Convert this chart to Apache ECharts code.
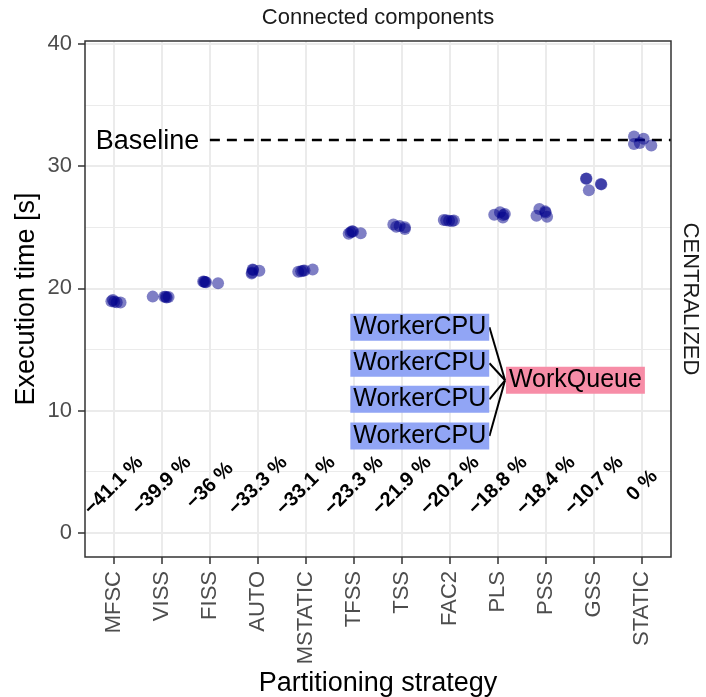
<!DOCTYPE html>
<html>
<head>
<meta charset="utf-8">
<script src="https://cdn.jsdelivr.net/npm/echarts@6/dist/echarts.min.js"></script>
<style>
  html, body { margin: 0; padding: 0; background: #fff; }
  #myChart { width: 706px; height: 697px; }
</style>
</head>
<body>
<div id="myChart"></div>
<script>
// Partitioning strategies, ordered as on the x axis
var strategies = ['MFSC', 'VISS', 'FISS', 'AUTO', 'MSTATIC', 'TFSS', 'TSS', 'FAC2', 'PLS', 'PSS', 'GSS', 'STATIC'];

// Execution time [s] of each repetition, one row per strategy
var times = [
  [19.05, 18.90, 18.86, 18.83, 18.95],
  [19.32, 19.30, 19.28, 19.24, 19.30],
  [20.56, 20.52, 20.50, 20.41, 20.54],
  [21.22, 21.54, 21.43, 21.50, 21.30],
  [21.35, 21.43, 21.54, 21.40, 21.45],
  [24.46, 24.68, 24.51, 24.60, 24.65],
  [25.22, 25.05, 25.00, 24.85, 25.10],
  [25.60, 25.54, 25.55, 25.58, 25.52],
  [26.03, 26.22, 25.80, 26.08, 26.00],
  [26.49, 25.95, 26.30, 25.86, 26.20],
  [28.97, 28.03, 28.51, 29.00, 28.55],
  [32.43, 31.81, 32.24, 31.89, 31.70]
];

// horizontal jitter of each point (in category units)
var jitter = [
  [-0.02, 0.01, 0.06, 0.14, -0.05],
  [-0.19, 0.05, 0.14, 0.10, 0.08],
  [-0.14, -0.10, -0.08, 0.17, -0.12],
  [-0.13, -0.11, 0.03, -0.10, -0.12],
  [-0.16, -0.06, 0.14, -0.10, -0.03],
  [-0.11, -0.04, 0.14, -0.07, -0.02],
  [-0.18, -0.12, 0.06, 0.06, -0.05],
  [-0.13, -0.02, 0.08, -0.08, 0.04],
  [-0.08, 0.04, 0.10, 0.14, 0.11],
  [-0.14, -0.20, -0.02, 0.02, -0.01],
  [-0.17, -0.11, 0.15, -0.16, 0.14],
  [-0.17, -0.17, 0.03, -0.05, 0.19]
];

// relative change vs. STATIC, printed under each strategy
var changeLabels = ['\u221241.1 %', '\u221239.9 %', '\u221236 %', '\u221233.3 %', '\u221233.1 %', '\u221223.3 %',
  '\u221221.9 %', '\u221220.2 %', '\u221218.8 %', '\u221218.4 %', '\u221210.7 %', '0 %'];
var changeLabelY = 3.84;

// baseline (dashed line) and its label
var baselineTime = 32.14;
var baselineStart = 2;
var baselineLabel = { x: 0.70, y: 31.98 };

// the WorkerCPU -> WorkQueue sketch
var workerLabelX = 6.37;
var workerRows = [16.81, 13.86, 10.91, 7.91];
var workerEdgeX = 7.82;
var queueLabel = { x: 9.61, y: 12.47 };
var queueEdgeX = 8.145;

var yTicks = { min: 0, max: 40, interval: 10 };

var FONT = 'Liberation Sans';

// build the point list
var points = [];
times.forEach(function (row, i) {
  row.forEach(function (t, k) {
    points.push([i + jitter[i][k], t]);
  });
});

var changeData = changeLabels.map(function (label, i) {
  return { value: [i, changeLabelY], name: label };
});

var workerData = workerRows.map(function (y) {
  return { value: [workerLabelX, y], name: 'WorkerCPU' };
});

var connectorData = workerRows.map(function (y) {
  return { coords: [[workerEdgeX, y], [queueEdgeX, queueLabel.y]] };
});

var myChart = echarts.init(document.getElementById('myChart'));

var option = {
  animation: false,
  textStyle: { fontFamily: FONT },
  grid: [
    // 0: data panel (with border)
    { left: 85, top: 41, width: 586, height: 516, show: true, borderColor: '#333333', borderWidth: 1.5,
      backgroundColor: 'transparent', z: 5, containLabel: false, outerBoundsMode: 'none' },
    // 1: category ticks / vertical grid lines
    { left: 113.8, top: 41, width: 528.3, height: 516, containLabel: false, outerBoundsMode: 'none' },
    // 2: y ticks / horizontal grid lines
    { left: 85, top: 44.05, width: 586, height: 488.55, containLabel: false, outerBoundsMode: 'none' }
  ],
  xAxis: [
    {
      gridIndex: 0, type: 'value', min: -0.6, max: 11.6,
      axisLine: { show: false }, axisTick: { show: false }, axisLabel: { show: false }, splitLine: { show: false },
      name: 'Partitioning strategy', nameLocation: 'middle', nameGap: 113, nameMoveOverlap: false,
      nameTextStyle: { fontSize: 27, color: '#000000', fontFamily: FONT }
    },
    {
      gridIndex: 1, type: 'category', data: strategies, boundaryGap: false,
      axisLine: { show: false },
      axisTick: { show: true, length: 7, lineStyle: { color: '#333333', width: 1.5 } },
      axisLabel: { interval: 0, rotate: 90, fontSize: 22, color: '#4D4D4D', margin: 14, fontFamily: FONT },
      splitLine: { show: true, lineStyle: { color: '#EBEBEB', width: 2 } }
    },
    { gridIndex: 2, type: 'value', show: false }
  ],
  yAxis: [
    {
      gridIndex: 0, type: 'value', min: -2, max: 40.25,
      axisLine: { show: false }, axisTick: { show: false }, axisLabel: { show: false }, splitLine: { show: false },
      name: 'Execution time [s]', nameLocation: 'middle', nameGap: 45, nameMoveOverlap: false,
      nameTextStyle: { fontSize: 27, color: '#000000', fontFamily: FONT }
    },
    { gridIndex: 1, type: 'value', show: false },
    {
      gridIndex: 2, type: 'value', min: yTicks.min, max: yTicks.max, interval: yTicks.interval,
      axisLine: { show: false },
      axisTick: { show: true, length: 7, lineStyle: { color: '#333333', width: 1.5 } },
      axisLabel: { fontSize: 22, color: '#4D4D4D', margin: 13, fontFamily: FONT },
      splitLine: { show: true, lineStyle: { color: '#EBEBEB', width: 2 } },
      minorTick: { show: false, splitNumber: 2 },
      minorSplitLine: { show: true, lineStyle: { color: '#EBEBEB', width: 1 } }
    }
  ],
  graphic: [
    {
      type: 'text', x: 378, y: 18, z: 10,
      style: { text: 'Connected components', fontSize: 22, fontFamily: FONT, fill: '#1A1A1A',
        textAlign: 'center', textVerticalAlign: 'middle' }
    },
    {
      type: 'text', x: 690, y: 299, rotation: -Math.PI / 2, z: 10,
      style: { text: 'CENTRALIZED', fontSize: 22, fontFamily: FONT, fill: '#1A1A1A',
        textAlign: 'center', textVerticalAlign: 'middle' }
    }
  ],
  series: [
    {
      // measured execution times
      type: 'scatter', xAxisIndex: 0, yAxisIndex: 0, z: 3,
      symbolSize: 12,
      itemStyle: { color: '#00008B', opacity: 0.5 },
      data: points
    },
    {
      // baseline
      type: 'line', xAxisIndex: 0, yAxisIndex: 0, z: 2,
      symbol: 'none', silent: true,
      lineStyle: { color: '#000000', width: 2.5, type: [10, 7] },
      data: [[baselineStart, baselineTime], [11.6, baselineTime]]
    },
    {
      // baseline label
      type: 'scatter', xAxisIndex: 0, yAxisIndex: 0, z: 4,
      symbolSize: 0, itemStyle: { color: 'transparent' },
      label: { show: true, position: 'inside', formatter: '{b}', fontSize: 27, color: '#000000', opacity: 1, fontFamily: FONT },
      data: [{ value: [baselineLabel.x, baselineLabel.y], name: 'Baseline' }]
    },
    {
      // change vs STATIC labels
      type: 'scatter', xAxisIndex: 0, yAxisIndex: 0, z: 4,
      symbolSize: 0, itemStyle: { color: 'transparent' },
      label: { show: true, position: 'inside', formatter: '{b}', rotate: 45, fontSize: 20, fontWeight: 'bold',
        color: '#000000', opacity: 1, fontFamily: FONT },
      data: changeData
    },
    {
      // connectors WorkerCPU -> WorkQueue
      type: 'lines', coordinateSystem: 'cartesian2d', xAxisIndex: 0, yAxisIndex: 0, z: 4,
      lineStyle: { color: '#000000', width: 2, opacity: 1, curveness: 0 },
      data: connectorData
    },
    {
      // WorkerCPU boxes
      type: 'scatter', xAxisIndex: 0, yAxisIndex: 0, z: 5,
      symbolSize: 0, itemStyle: { color: 'transparent' },
      label: { show: true, position: 'inside', formatter: '{b}', fontSize: 25, lineHeight: 25, color: '#000000', opacity: 1,
        backgroundColor: '#91A5F5', padding: [1, 3, 1, 3], fontFamily: FONT },
      data: workerData
    },
    {
      // WorkQueue box
      type: 'scatter', xAxisIndex: 0, yAxisIndex: 0, z: 5,
      symbolSize: 0, itemStyle: { color: 'transparent' },
      label: { show: true, position: 'inside', formatter: '{b}', fontSize: 25, lineHeight: 25, color: '#000000', opacity: 1,
        backgroundColor: '#F78DA7', padding: [1, 3, 1, 3], fontFamily: FONT },
      data: [{ value: [queueLabel.x, queueLabel.y], name: 'WorkQueue' }]
    }
  ]
};

myChart.setOption(option);
</script>
</body>
</html>
